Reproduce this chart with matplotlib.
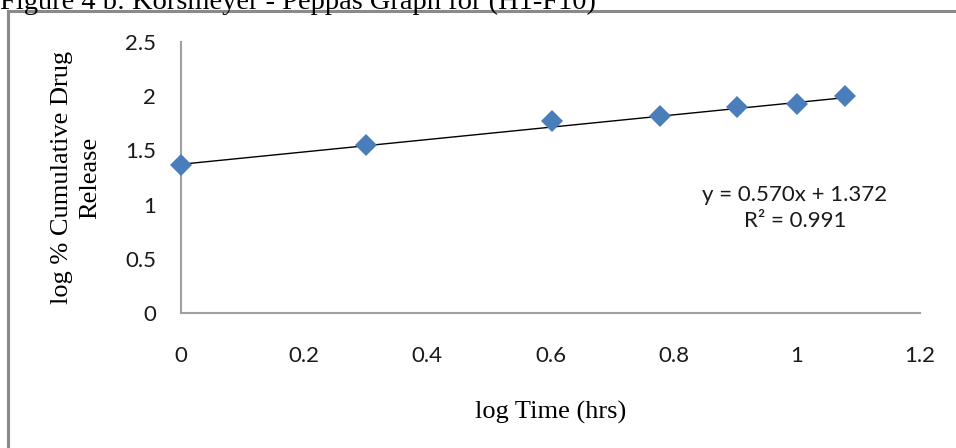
#!/usr/bin/env python3
"""Korsmeyer-Peppas plot: log % cumulative drug release vs log time"""
import numpy as np
import matplotlib
matplotlib.use("Agg")
import matplotlib.pyplot as plt
from matplotlib.lines import Line2D

# ── data ─────────────────────────────────────
log_time = [0.0, 0.301, 0.602, 0.778, 0.903, 1.0, 1.079]
log_release = [1.368, 1.552, 1.768, 1.820, 1.897, 1.925, 1.998]
slope, intercept, r2 = 0.570, 1.372, 0.991

x_ticks = [0, 0.2, 0.4, 0.6, 0.8, 1, 1.2]
x_tick_labels = ["0", "0.2", "0.4", "0.6", "0.8", "1", "1.2"]
y_ticks = [0, 0.5, 1, 1.5, 2, 2.5]
y_tick_labels = ["0", "0.5", "1", "1.5", "2", "2.5"]

SANS = ["Lato", "DejaVu Sans"]
SERIF = ["Liberation Serif", "DejaVu Serif"]

W, H = 956, 448
fig = plt.figure(figsize=(W / 100, H / 100), dpi=100)
ax = fig.add_axes([181 / W, 1 - 313 / H, (920 - 181) / W, (313 - 42) / H])

# trendline (linear, from the shown equation)
xs = np.array([min(log_time), max(log_time)])
ax.plot(xs, slope * xs + intercept, color="black", lw=1.0, zorder=2)
ax.plot(log_time, log_release, linestyle="none", marker="D", ms=11,
        color="#4a7ebb", markeredgewidth=0, zorder=3, clip_on=False)

ax.set_xlim(0, 1.2)
ax.set_ylim(0, 2.5)
ax.set_xticks(x_ticks)
ax.set_xticklabels(x_tick_labels)
ax.set_yticks(y_ticks)
ax.set_yticklabels(y_tick_labels)
ax.tick_params(length=0, labelsize=16, labelcolor="#1a1a1a")
ax.tick_params(axis="x", pad=24)
ax.tick_params(axis="y", pad=18)
for lab in ax.get_xticklabels() + ax.get_yticklabels():
    lab.set_family(SANS)

for side in ["top", "right"]:
    ax.spines[side].set_visible(False)
for side in ["left", "bottom"]:
    ax.spines[side].set_color("#a0a0a0")
    ax.spines[side].set_linewidth(1.5)

ax.set_xlabel("log Time (hrs)", family=SERIF, fontsize=19, labelpad=25)
ax.set_ylabel("log % Cumulative Drug\nRelease", family=SERIF,
              fontsize=19, labelpad=17, linespacing=1.35)

# regression equation
ax.text(0.997, 0.97, f"y = {slope:.3f}x + {intercept:.3f}\nR² = {r2:.3f}",
        ha="center", va="center", fontsize=16, family=SANS,
        color="#1a1a1a", linespacing=1.35, multialignment="center")

# outer frame and cut-off caption
fig.add_artist(Line2D([8 / W, 1], [1 - 11 / H] * 2, color="#8a8a8a", lw=2.2))
fig.add_artist(Line2D([8 / W] * 2, [0, 1 - 11 / H], color="#8a8a8a", lw=2.2))
fig.text(0, 1 - 9 / H, "Figure 4 b: Korsmeyer - Peppas Graph for (H1-F10)",
         family=SERIF, fontsize=20.5, va="baseline", ha="left")

plt.savefig("out.png", dpi=100)
